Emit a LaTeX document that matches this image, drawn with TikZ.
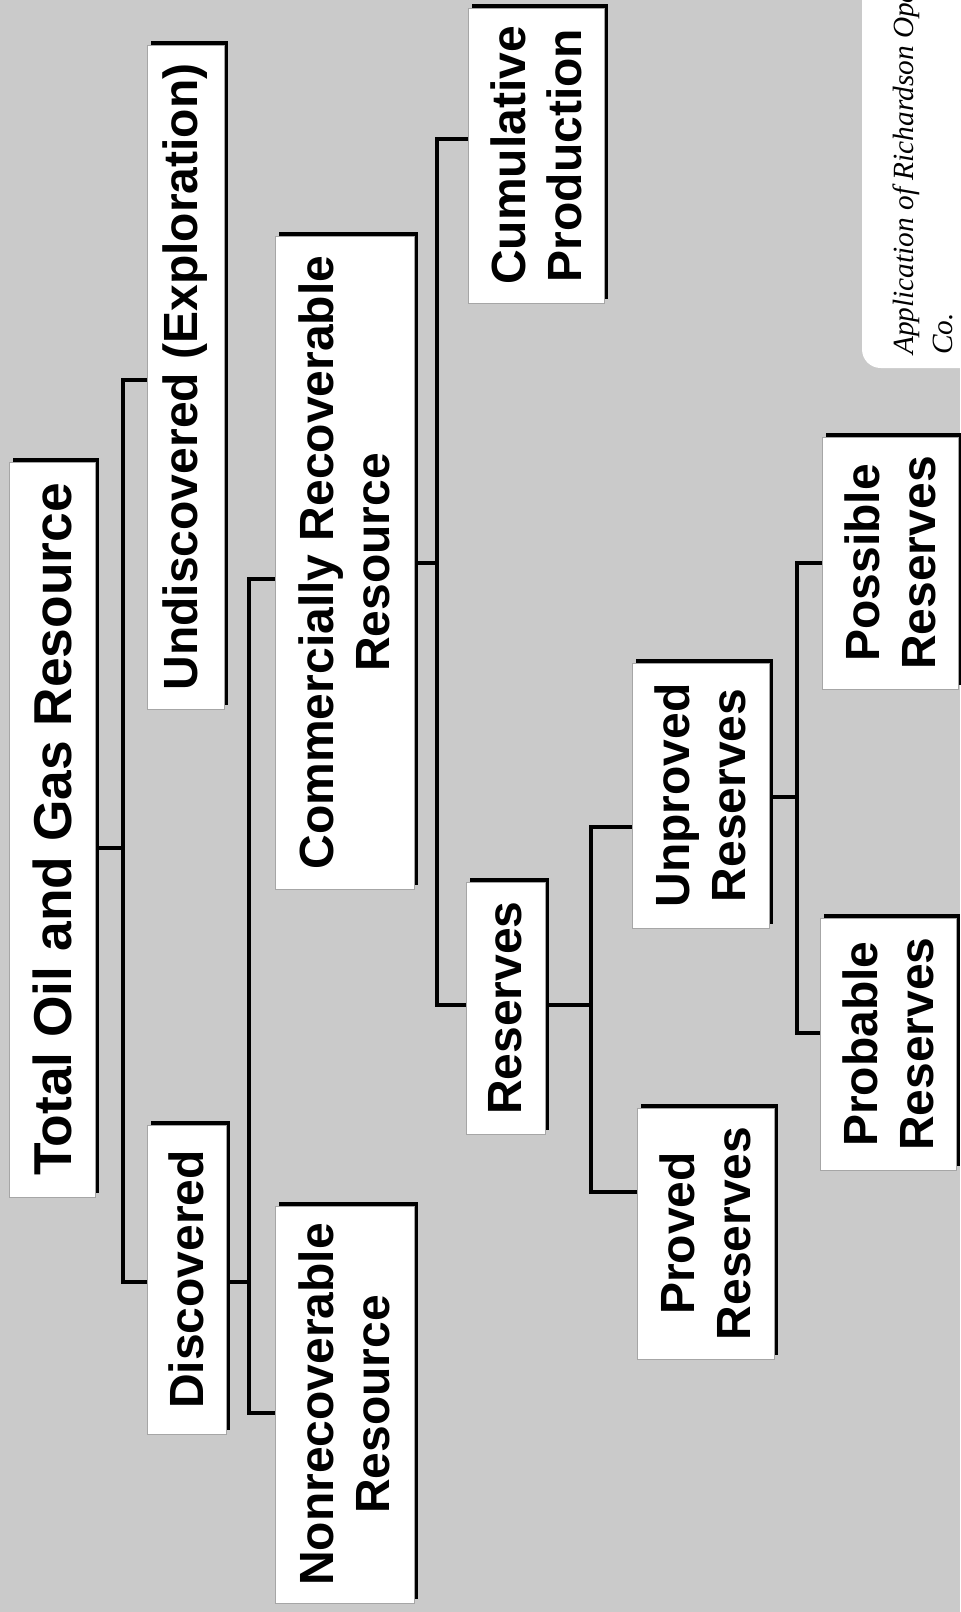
\documentclass[tikz,border=0pt]{standalone}
\usepackage{fontspec}
\setmainfont{Liberation Sans}
\newfontfamily\srcfont{Liberation Serif}
\usetikzlibrary{backgrounds}
\definecolor{bgray}{RGB}{202,202,202}
\tikzset{
  box/.style={draw=gray!70, line width=0.6pt, fill=white, rotate=90, inner sep=0pt,
    align=center, font=\bfseries\fontsize{36}{42}\selectfont},
  sz/.style 2 args={minimum width=#2*0.75pt, minimum height=#1*0.75pt},
  conn/.style={line width=3.5pt, line join=miter, black},
  shade/.style={fill=black},
}
\begin{document}
\begin{tikzpicture}[x=0.75pt, y=-0.75pt]
\useasboundingbox (0,0) rectangle (960,1612);
\clip (0,0) rectangle (960,1612);
\begin{pgfonlayer}{background}
  \fill[bgray] (0,0) rectangle (960,1612);
\end{pgfonlayer}

% source box
\fill[white, rounded corners=14pt] (862,-20) rectangle (990,368);
\node[rotate=90, anchor=north west, align=left, inner sep=0pt,
  font=\srcfont\itshape\fontsize{22}{29}\selectfont] (src) at (893,355)
  {Application of Richardson Oper\\Co.};

% boxes: sz={page width}{page height}
\node[box, sz={86}{735}, font=\bfseries\fontsize{40}{46}\selectfont] (tot) at (52,829.5) {Total Oil and Gas Resource};
\node[box, sz={77}{664}] (und) at (185.5,377) {Undiscovered (Exploration)};
\node[box, sz={79}{309}] (disc) at (186.5,1279.5) {Discovered};
\node[box, sz={139}{653}] (comm) at (344.5,562.5) {Commercially Recoverable\\Resource};
\node[box, sz={139}{397}] (nonrec) at (344.5,1404.5) {Nonrecoverable\\Resource};
\node[box, sz={136}{295}] (cum) at (536,155.5) {Cumulative\\Production};
\node[box, sz={79}{252}] (res) at (505.5,1008) {Reserves};
\node[box, sz={137}{265}] (unp) at (700.5,795.5) {Unproved\\Reserves};
\node[box, sz={137}{251}] (prov) at (705.5,1233.5) {Proved\\Reserves};
\node[box, sz={136}{252}] (poss) at (890,563) {Possible\\Reserves};
\node[box, sz={136}{252}] (prob) at (888,1044) {Probable\\Reserves};

\begin{pgfonlayer}{background}
  \foreach \n in {tot,und,disc,comm,nonrec,cum,res,unp,prov,poss,prob}
    \fill[shade] ([shift={(3pt,3pt)}]\n.south west) rectangle ([shift={(3pt,3pt)}]\n.north east);
  % connectors
  \draw[conn] (tot.south |- 0,848) -- (123,848);
  \draw[conn] (und.north |- 0,380) -- (123,380) -- (123,1282) -- (disc.north |- 0,1282);
  \draw[conn] (disc.south |- 0,1282) -- (249,1282);
  \draw[conn] (comm.north |- 0,579) -- (249,579) -- (249,1413) -- (nonrec.north |- 0,1413);
  \draw[conn] (comm.south |- 0,563) -- (437,563);
  \draw[conn] (cum.north |- 0,139) -- (437,139) -- (437,1005) -- (res.north |- 0,1005);
  \draw[conn] (res.south |- 0,1005) -- (591,1005);
  \draw[conn] (unp.north |- 0,827) -- (591,827) -- (591,1192) -- (prov.north |- 0,1192);
  \draw[conn] (unp.south |- 0,797) -- (797,797);
  \draw[conn] (poss.north |- 0,563) -- (797,563) -- (797,1033) -- (prob.north |- 0,1033);
\end{pgfonlayer}
\end{tikzpicture}
\end{document}
